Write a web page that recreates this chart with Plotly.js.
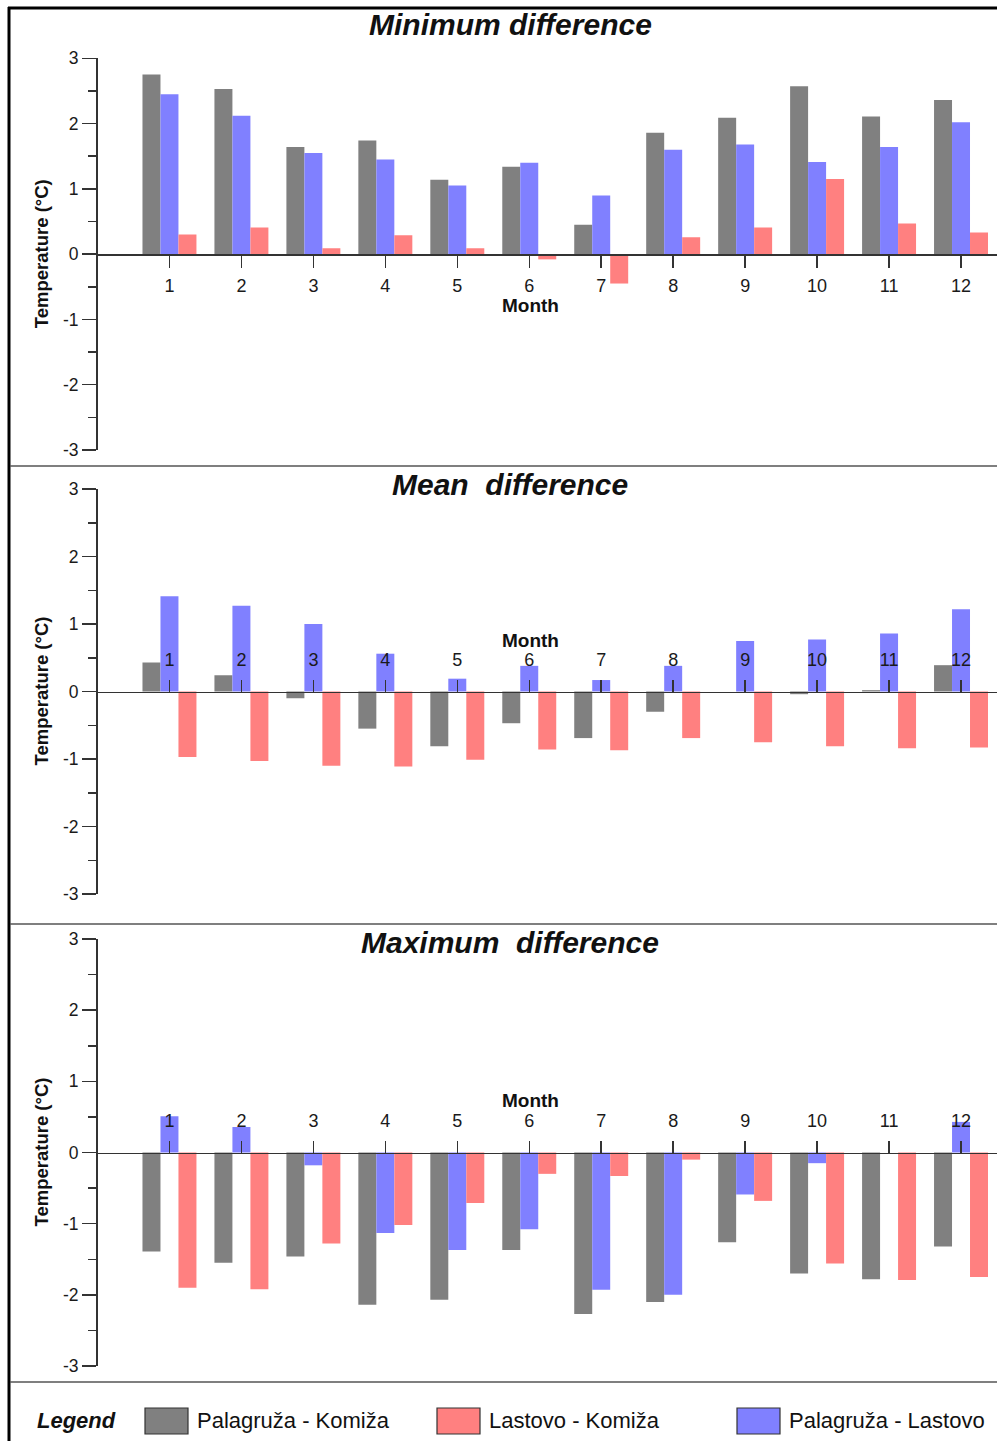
<!DOCTYPE html>
<html>
<head>
<meta charset="utf-8">
<script src="https://cdn.plot.ly/plotly-3.0.1.min.js"></script>
<style>html,body{margin:0;padding:0;background:#fff;}#chart{width:997px;height:1441px;}</style>
</head>
<body>
<div id="chart"></div>
<script>
// ---- Data ----
const months = [1,2,3,4,5,6,7,8,9,10,11,12];
const monthLabels = ['1','2','3','4','5','6','7','8','9','10','11','12'];
const yTickVals = [-3,-2,-1,0,1,2,3];
const yTickLabels = ['-3','-2','-1','0','1','2','3'];
const seriesNames = ['Palagruža - Komiža','Palagruža - Lastovo','Lastovo - Komiža'];
const panelTitles = ['Minimum difference','Mean\u00a0 difference','Maximum\u00a0 difference'];

const minPK = [2.75,2.53,1.64,1.74,1.14,1.34,0.45,1.86,2.09,2.57,2.11,2.36];
const minPL = [2.45,2.12,1.55,1.45,1.05,1.40,0.90,1.60,1.68,1.41,1.64,2.02];
const minLK = [0.30,0.41,0.09,0.29,0.09,-0.08,-0.45,0.26,0.41,1.15,0.47,0.33];

const meanPK = [0.43,0.24,-0.10,-0.55,-0.81,-0.47,-0.69,-0.30,0.00,-0.04,0.02,0.39];
const meanPL = [1.41,1.27,1.00,0.56,0.19,0.38,0.17,0.38,0.75,0.77,0.86,1.22];
const meanLK = [-0.97,-1.03,-1.10,-1.11,-1.01,-0.86,-0.87,-0.69,-0.75,-0.81,-0.84,-0.83];

const maxPK = [-1.39,-1.55,-1.46,-2.14,-2.07,-1.37,-2.27,-2.10,-1.26,-1.70,-1.78,-1.32];
const maxPL = [0.51,0.36,-0.18,-1.13,-1.37,-1.08,-1.93,-2.00,-0.59,-0.15,0.00,0.43];
const maxLK = [-1.90,-1.92,-1.28,-1.02,-0.71,-0.30,-0.33,-0.10,-0.68,-1.56,-1.79,-1.75];

// ---- Styling ----
const W = 997, H = 1441;
const FONT = 'Liberation Sans, Arial, sans-serif';
const colors = ['#808080','#8080ff','#ff8080'];
const px = v => v / W;
const py = v => 1 - v / H;

const panels = [
  {series:[minPK,minPL,minLK], top:58.3, bottom:450, side:'bottom', standoff:3, titleY:25, monthY:305},
  {series:[meanPK,meanPL,meanLK], top:489, bottom:894, side:'top', standoff:6, titleY:484, monthY:640},
  {series:[maxPK,maxPL,maxLK], top:939, bottom:1366, side:'top', standoff:6, titleY:943, monthY:1100}
];

const data = [];
const layout = {
  width: W, height: H,
  margin: {l:0, r:0, t:0, b:0},
  paper_bgcolor: '#fff', plot_bgcolor: 'rgba(0,0,0,0)',
  barmode: 'group', bargap: 0.25, bargroupgap: 0,
  showlegend: false,
  font: {family: FONT, color: '#222'},
  shapes: [], annotations: []
};

panels.forEach((p, i) => {
  const n = i === 0 ? '' : String(i + 1);
  const xa = 'x' + n, ya = 'y' + n;
  p.series.forEach((vals, s) => {
    data.push({
      type: 'bar', x: months, y: vals, name: seriesNames[s],
      xaxis: xa, yaxis: ya,
      marker: {color: colors[s], line: {width: 0}},
      hoverinfo: 'x+y+name'
    });
  });
  const d0 = py(p.bottom), d1 = py(p.top);
  layout['xaxis' + n] = {
    domain: [px(97.5), 1], range: [0, 12.5],
    anchor: 'free', position: (d0 + d1) / 2, side: p.side,
    showline: true, linecolor: '#333', linewidth: 1.5,
    ticks: 'outside', ticklen: 12, tickwidth: 1.5, tickcolor: '#333',
    tickvals: months, ticktext: monthLabels, ticklabelstandoff: p.standoff,
    tickfont: {family: FONT, size: 18, color: '#1a1a1a'},
    showgrid: false, zeroline: false, fixedrange: true
  };
  layout['yaxis' + n] = {
    domain: [d0, d1], range: [-3, 3], anchor: xa,
    showline: true, linecolor: '#333', linewidth: 1.5,
    ticks: 'outside', ticklen: 14, tickwidth: 1.5, tickcolor: '#333',
    tickvals: yTickVals, ticktext: yTickLabels,
    minor: {dtick: 0.5, tick0: 0, ticks: 'outside', ticklen: 8, tickwidth: 1.5, tickcolor: '#333', showgrid: false},
    tickfont: {family: FONT, size: 17.5, color: '#1a1a1a'},
    showgrid: false, zeroline: false, fixedrange: true
  };
  // panel title
  layout.annotations.push({
    xref: 'paper', yref: 'paper', x: px(510), y: py(p.titleY),
    xanchor: 'center', yanchor: 'middle', showarrow: false,
    text: '<b><i>' + panelTitles[i] + '</i></b>',
    font: {family: FONT, size: 30, color: '#111'}
  });
  // y axis title
  layout.annotations.push({
    xref: 'paper', yref: 'paper', x: px(41), y: (d0 + d1) / 2,
    xanchor: 'center', yanchor: 'middle', showarrow: false, textangle: -90,
    text: '<b>Temperature (°C)</b>',
    font: {family: FONT, size: 18.5, color: '#111'}
  });
  // "Month" label
  layout.annotations.push({
    xref: 'paper', yref: 'paper', x: px(530), y: py(p.monthY),
    xanchor: 'center', yanchor: 'middle', showarrow: false,
    text: '<b>Month</b>',
    font: {family: FONT, size: 19, color: '#111'}
  });
});

// frame and dividers
layout.shapes.push(
  {type:'line', xref:'paper', yref:'paper', x0:px(9), x1:px(9), y0:0, y1:py(7), line:{color:'#000', width:3}},
  {type:'line', xref:'paper', yref:'paper', x0:px(8), x1:1, y0:py(8), y1:py(8), line:{color:'#000', width:3}}
);
[466, 924, 1382].forEach(yy => layout.shapes.push(
  {type:'line', xref:'paper', yref:'paper', x0:px(10), x1:1, y0:py(yy), y1:py(yy), line:{color:'#555', width:1.5}}
));

// custom legend (order as in reference: gray, red, blue)
const legendOrder = [0, 2, 1];
const legendBoxX = [145, 437, 737];
layout.annotations.push({
  xref:'paper', yref:'paper', x:px(35), y:py(1420), xanchor:'left', yanchor:'middle',
  showarrow:false, text:'<b><i>Legend</i></b>', font:{family:FONT, size:22, color:'#111'}
});
legendOrder.forEach((s, k) => {
  const x0 = legendBoxX[k];
  layout.shapes.push({type:'rect', xref:'paper', yref:'paper',
    x0:px(x0), x1:px(x0 + 43), y0:py(1434), y1:py(1408),
    fillcolor: colors[s], line:{color:'#333', width:1.2}});
  layout.annotations.push({
    xref:'paper', yref:'paper', x:px(x0 + 50), y:py(1420), xanchor:'left', yanchor:'middle',
    showarrow:false, text: seriesNames[s], font:{family:FONT, size:22, color:'#111'}
  });
});

Plotly.newPlot('chart', data, layout, {displayModeBar:false, staticPlot:true});
</script>
</body>
</html>
